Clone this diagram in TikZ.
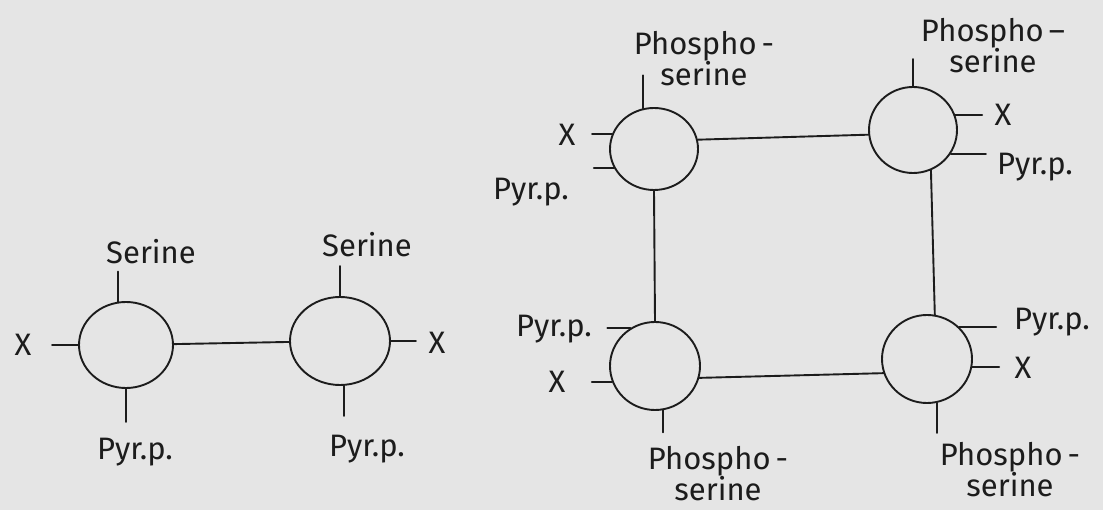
\documentclass[tikz,border=0pt]{standalone}
\usepackage{fontspec}
\setmainfont{Fira Sans}
\usetikzlibrary{shapes.geometric}
\definecolor{paper}{RGB}{229,229,229}
\definecolor{ink}{RGB}{28,28,28}
\begin{document}
\begin{tikzpicture}[x=1pt,y=-1pt,
  unit/.style={ellipse,draw=ink,line width=1.9pt,inner sep=0pt},
  bond/.style={draw=ink,line width=1.9pt,line cap=round},
  lbl/.style={text=ink,font=\fontsize{31}{31}\selectfont,inner sep=0pt,align=center}]
\fill[paper] (0,0) rectangle (1103,510);
\useasboundingbox (0,0) rectangle (1103,510);

% --- dimer (left) ---
\node[unit,minimum width=94pt,minimum height=86pt] (A) at (126,345) {};
\node[unit,minimum width=100pt,minimum height=88pt] (B) at (340,341) {};
\draw[bond] (A) -- (B);
\draw[bond] (A.100) -- ++(0,-30);
\draw[bond] (A.south) -- ++(0,33);
\draw[bond] (A.west) -- ++(-26,0);
\draw[bond] (B.north) -- ++(0,-30);
\draw[bond] (B.-85) -- ++(0,30);
\draw[bond] (B.east) -- ++(25,0);
\node[lbl] (ax) at (23,345) {X};
\node[lbl] (as) at (151,252) {Serine};
\node[lbl] (ap) at (135,452) {Pyr.p.};
\node[lbl] (bs) at (367,245) {Serine};
\node[lbl] (bx) at (437,343) {X};
\node[lbl] (bp) at (367,449) {Pyr.p.};

% --- tetramer (right) ---
\node[unit,minimum width=88pt,minimum height=82pt] (C) at (654,149) {};
\node[unit,minimum width=88pt,minimum height=86pt] (D) at (913,130) {};
\node[unit,minimum width=90pt,minimum height=88pt] (E) at (655,366) {};
\node[unit,minimum width=90pt,minimum height=88pt] (F) at (927,359) {};
\draw[bond] (C.12) -- (D.186);
\draw[bond] (C.south) -- (E.north);
\draw[bond] (D.-66) -- (F.80);
\draw[bond] (E.-15) -- (F.-162);

% ticks on C
\draw[bond] (C.105) -- ++(0,-33);
\draw[bond] (C.160) -- ++(-20,0);
\draw[bond] (C.205) -- ++(-20,0);
% ticks on D
\draw[bond] (D.north) -- ++(0,-27);
\draw[bond] (D.20) -- ++(27,0);
\draw[bond] (D.-32) -- ++(35,0);
% ticks on E
\draw[bond] (E.123) -- ++(-23,0);
\draw[bond] (E.200) -- ++(-20,0);
\draw[bond] (E.-80) -- ++(0,22);
% ticks on F
\draw[bond] (F.45) -- ++(37,0);
\draw[bond] (F.-10) -- ++(27,0);
\draw[bond] (F.-77) -- ++(0,30);

\node[lbl] (cs) at (704,59) {Phospho\,-\\serine};
\node[lbl] (cx) at (567,135) {X};
\node[lbl] (cp) at (531,192) {Pyr.p.};
\node[lbl] (ds) at (993,46) {Phospho\,–\\serine};
\node[lbl] (dx) at (1003,115) {X};
\node[lbl] (dp) at (1035,167) {Pyr.p.};
\node[lbl] (ep) at (554,329) {Pyr.p.};
\node[lbl] (ex) at (557,382) {X};
\node[lbl] (es) at (718,474) {Phospho\,-\\serine};
\node[lbl] (fp) at (1052,322) {Pyr.p.};
\node[lbl] (fx) at (1023,368) {X};
\node[lbl] (fs) at (1010,470) {Phospho\,-\\serine};
\end{tikzpicture}
\end{document}
